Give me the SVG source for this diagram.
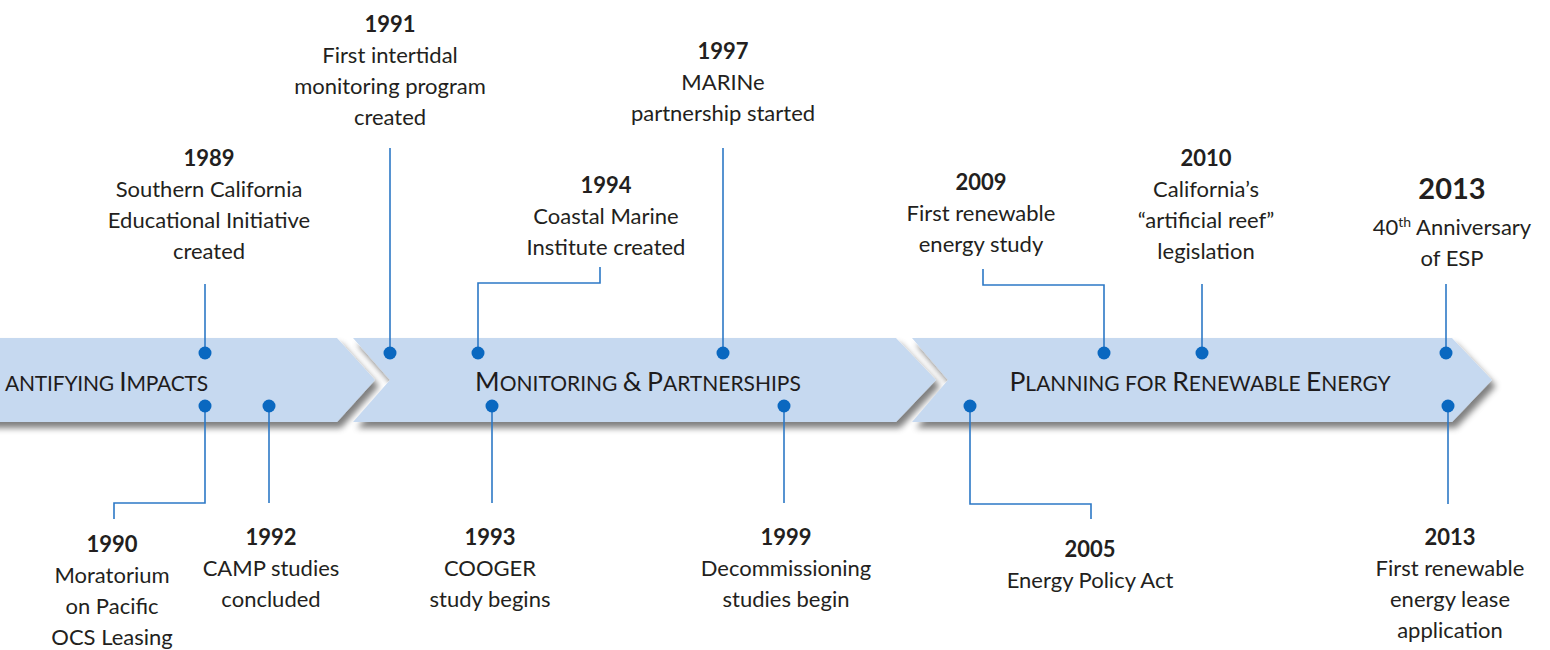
<svg xmlns="http://www.w3.org/2000/svg" width="1550" height="650" viewBox="0 0 1550 650">
<style>
.t{font-family:Lato,"Open Sans","Liberation Sans",sans-serif;font-size:22px;fill:#231F20;text-anchor:middle}
.y{font-weight:bold}
.band{font-family:Lato,"Open Sans","Liberation Sans",sans-serif;font-size:21px;fill:#1E1C1C}
.bc{font-size:26.5px}
.ln{fill:none;stroke:#2C78C6;stroke-width:1.6}
.dot{fill:#0A68C0}
.chev{fill:#C6D9F0}
</style>
<defs>
<filter id="sh" x="-5%" y="-30%" width="115%" height="170%">
<feGaussianBlur in="SourceAlpha" stdDeviation="3"/>
<feOffset dx="4" dy="6" result="b"/>
<feFlood flood-color="#000" flood-opacity="0.5"/>
<feComposite in2="b" operator="in"/>
<feMerge><feMergeNode/><feMergeNode in="SourceGraphic"/></feMerge>
</filter>
</defs>
<rect width="1550" height="650" fill="#fff"/>
<g id="band-quantifying">
<polygon class="chev" filter="url(#sh)" points="-20,338 337,338 375,380 337,422 -20,422"/>
<text class="band" x="5" y="391" text-anchor="start" letter-spacing="-0.2">ANTIFYING <tspan class="bc">I</tspan>MPACTS</text>
</g>
<g id="band-monitoring">
<polygon class="chev" filter="url(#sh)" points="353,338 896,338 936,380 896,422 353,422 390,380"/>
<text class="band" x="638" y="391" text-anchor="middle"><tspan class="bc">M</tspan>ONITORING <tspan class="bc">&amp;</tspan> <tspan class="bc">P</tspan>ARTNERSHIPS</text>
</g>
<g id="band-planning">
<polygon class="chev" filter="url(#sh)" points="912,338 1452,338 1492,380 1452,422 912,422 948,380"/>
<text class="band" x="1200" y="391" text-anchor="middle"><tspan class="bc">P</tspan>LANNING FOR <tspan class="bc">R</tspan>ENEWABLE <tspan class="bc">E</tspan>NERGY</text>
</g>
<g id="connectors">
<path class="ln" d="M205,284V353"/>
<path class="ln" d="M390,148V353"/>
<path class="ln" d="M600,267V283H478V353"/>
<path class="ln" d="M723,148V353"/>
<path class="ln" d="M983,269V285H1104V353"/>
<path class="ln" d="M1202,284V353"/>
<path class="ln" d="M1446,284V353"/>
<path class="ln" d="M205,406V503H114V519"/>
<path class="ln" d="M269,406V503"/>
<path class="ln" d="M492,406V503"/>
<path class="ln" d="M784,406V503"/>
<path class="ln" d="M970,406V504H1091V519"/>
<path class="ln" d="M1448,406V504"/>
</g>
<g id="dots">
<circle class="dot" cx="205" cy="353" r="6.5"/>
<circle class="dot" cx="390" cy="353" r="6.5"/>
<circle class="dot" cx="478" cy="353" r="6.5"/>
<circle class="dot" cx="723" cy="353" r="6.5"/>
<circle class="dot" cx="1104" cy="353" r="6.5"/>
<circle class="dot" cx="1202" cy="353" r="6.5"/>
<circle class="dot" cx="1446" cy="353" r="6.5"/>
<circle class="dot" cx="205" cy="406" r="6.5"/>
<circle class="dot" cx="269" cy="406" r="6.5"/>
<circle class="dot" cx="492" cy="406" r="6.5"/>
<circle class="dot" cx="784" cy="406" r="6.5"/>
<circle class="dot" cx="970" cy="406" r="6.5"/>
<circle class="dot" cx="1448" cy="406" r="6.5"/>
</g>
<g id="e1989"><text class="t"><tspan class="y" x="209" y="166">1989</tspan><tspan x="209" y="197">Southern California</tspan><tspan x="209" y="228">Educational Initiative</tspan><tspan x="209" y="259">created</tspan></text></g>
<g id="e1991"><text class="t"><tspan class="y" x="390" y="32">1991</tspan><tspan x="390" y="63">First intertidal</tspan><tspan x="390" y="94">monitoring program</tspan><tspan x="390" y="125">created</tspan></text></g>
<g id="e1994"><text class="t"><tspan class="y" x="606" y="193">1994</tspan><tspan x="606" y="224">Coastal Marine</tspan><tspan x="606" y="255">Institute created</tspan></text></g>
<g id="e1997"><text class="t"><tspan class="y" x="723" y="59">1997</tspan><tspan x="723" y="90">MARINe</tspan><tspan x="723" y="121">partnership started</tspan></text></g>
<g id="e2009"><text class="t"><tspan class="y" x="981" y="190">2009</tspan><tspan x="981" y="221">First renewable</tspan><tspan x="981" y="252">energy study</tspan></text></g>
<g id="e2010"><text class="t"><tspan class="y" x="1206" y="166">2010</tspan><tspan x="1206" y="197">California’s</tspan><tspan x="1206" y="228">“artificial reef”</tspan><tspan x="1206" y="259">legislation</tspan></text></g>
<g id="e2013a"><text class="t"><tspan class="y" x="1452" y="199" font-size="29">2013</tspan><tspan x="1452" y="235">40<tspan font-size="14" dy="-8">th</tspan><tspan dy="8"> Anniversary</tspan></tspan><tspan x="1452" y="266">of ESP</tspan></text></g>
<g id="e1990"><text class="t"><tspan class="y" x="112" y="552">1990</tspan><tspan x="112" y="583">Moratorium</tspan><tspan x="112" y="614">on Pacific</tspan><tspan x="112" y="645">OCS Leasing</tspan></text></g>
<g id="e1992"><text class="t"><tspan class="y" x="271" y="545">1992</tspan><tspan x="271" y="576">CAMP studies</tspan><tspan x="271" y="607">concluded</tspan></text></g>
<g id="e1993"><text class="t"><tspan class="y" x="490" y="545">1993</tspan><tspan x="490" y="576">COOGER</tspan><tspan x="490" y="607">study begins</tspan></text></g>
<g id="e1999"><text class="t"><tspan class="y" x="786" y="545">1999</tspan><tspan x="786" y="576">Decommissioning</tspan><tspan x="786" y="607">studies begin</tspan></text></g>
<g id="e2005"><text class="t"><tspan class="y" x="1090" y="557">2005</tspan><tspan x="1090" y="588">Energy Policy Act</tspan></text></g>
<g id="e2013b"><text class="t"><tspan class="y" x="1450" y="545">2013</tspan><tspan x="1450" y="576">First renewable</tspan><tspan x="1450" y="607">energy lease</tspan><tspan x="1450" y="638">application</tspan></text></g>
</svg>
